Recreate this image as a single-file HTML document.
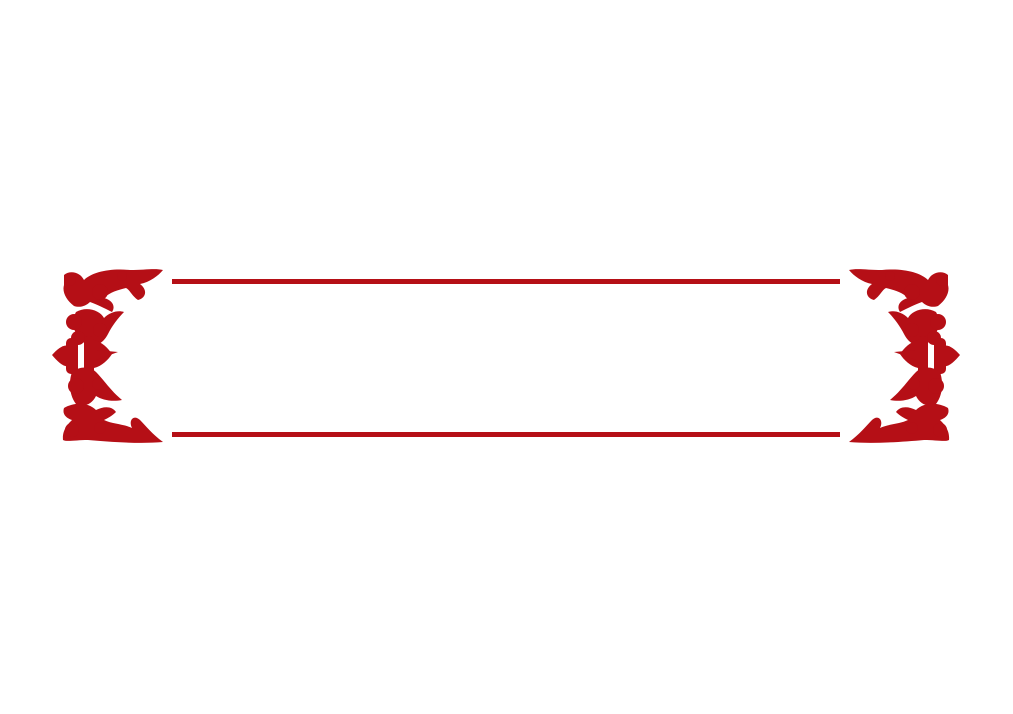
<!DOCTYPE html>
<html><head><meta charset="utf-8"><style>
html,body{margin:0;padding:0;background:#fff;width:1013px;height:714px;overflow:hidden}
</style></head><body>
<svg width="1013" height="714" viewBox="0 0 1013 714" xmlns="http://www.w3.org/2000/svg">
<defs>
<g id="orn" fill="#b50f16" stroke="none">
  <path d="M64 275 C70 270 80 272 84 280 C92 272 110 268 130 270 C145 270 155 268 163 270 C158 276 150 282 140 284 C148 290 146 298 138 300 C132 296 130 290 126 288 C118 290 110 292 104 298 C112 300 116 306 112 312 C104 308 96 304 90 302 C86 306 80 308 74 306 C66 300 62 292 64 285 Z"/>
  <circle cx="70" cy="280" r="6"/>
  <circle cx="122" cy="276" r="5"/>
  <circle cx="100" cy="292" r="8"/>
  <path d="M76 312 C86 306 100 310 104 318 C110 312 118 310 124 312 C118 318 112 326 108 334 C104 342 96 348 88 346 C80 340 72 330 72 320 Z"/>
  <circle cx="74" cy="322" r="8"/>
  <circle cx="78" cy="338" r="7"/>
  <circle cx="100" cy="330" r="7"/>
  <path d="M52 355 C58 348 64 344 70 346 L70 366 C64 368 58 362 52 355 Z"/>
  <rect x="66" y="338" width="12" height="36" rx="5"/>
  <rect x="84" y="336" width="10" height="40" rx="4"/>
  <path d="M94 340 C102 342 108 348 112 354 C108 360 102 366 94 368 Z"/>
  <path d="M96 350 L118 352 L96 360 Z"/>
  <path d="M72 372 C80 366 90 366 96 372 C104 380 110 390 122 400 C112 402 102 400 96 396 C92 404 84 408 76 404 C70 396 68 384 72 372 Z"/>
  <circle cx="76" cy="386" r="8"/>
  <circle cx="98" cy="384" r="6"/>
  <path d="M64 408 C74 402 88 402 96 410 C104 406 112 406 116 412 C112 416 108 418 104 420 C112 424 124 424 132 428 C128 420 134 414 140 420 C146 426 152 434 163 442 C140 444 110 442 88 440 C76 440 66 442 63 440 C62 430 68 424 72 420 C66 418 62 414 64 408 Z"/>
  <circle cx="72" cy="430" r="7"/>
  <circle cx="100" cy="428" r="6"/>
</g>
</defs>
<rect x="172" y="279" width="668" height="5" fill="#b50f16"/>
<rect x="172" y="432" width="668" height="5" fill="#b50f16"/>
<use href="#orn"/>
<use href="#orn" transform="translate(1012,0) scale(-1,1)"/>
</svg>
</body></html>
